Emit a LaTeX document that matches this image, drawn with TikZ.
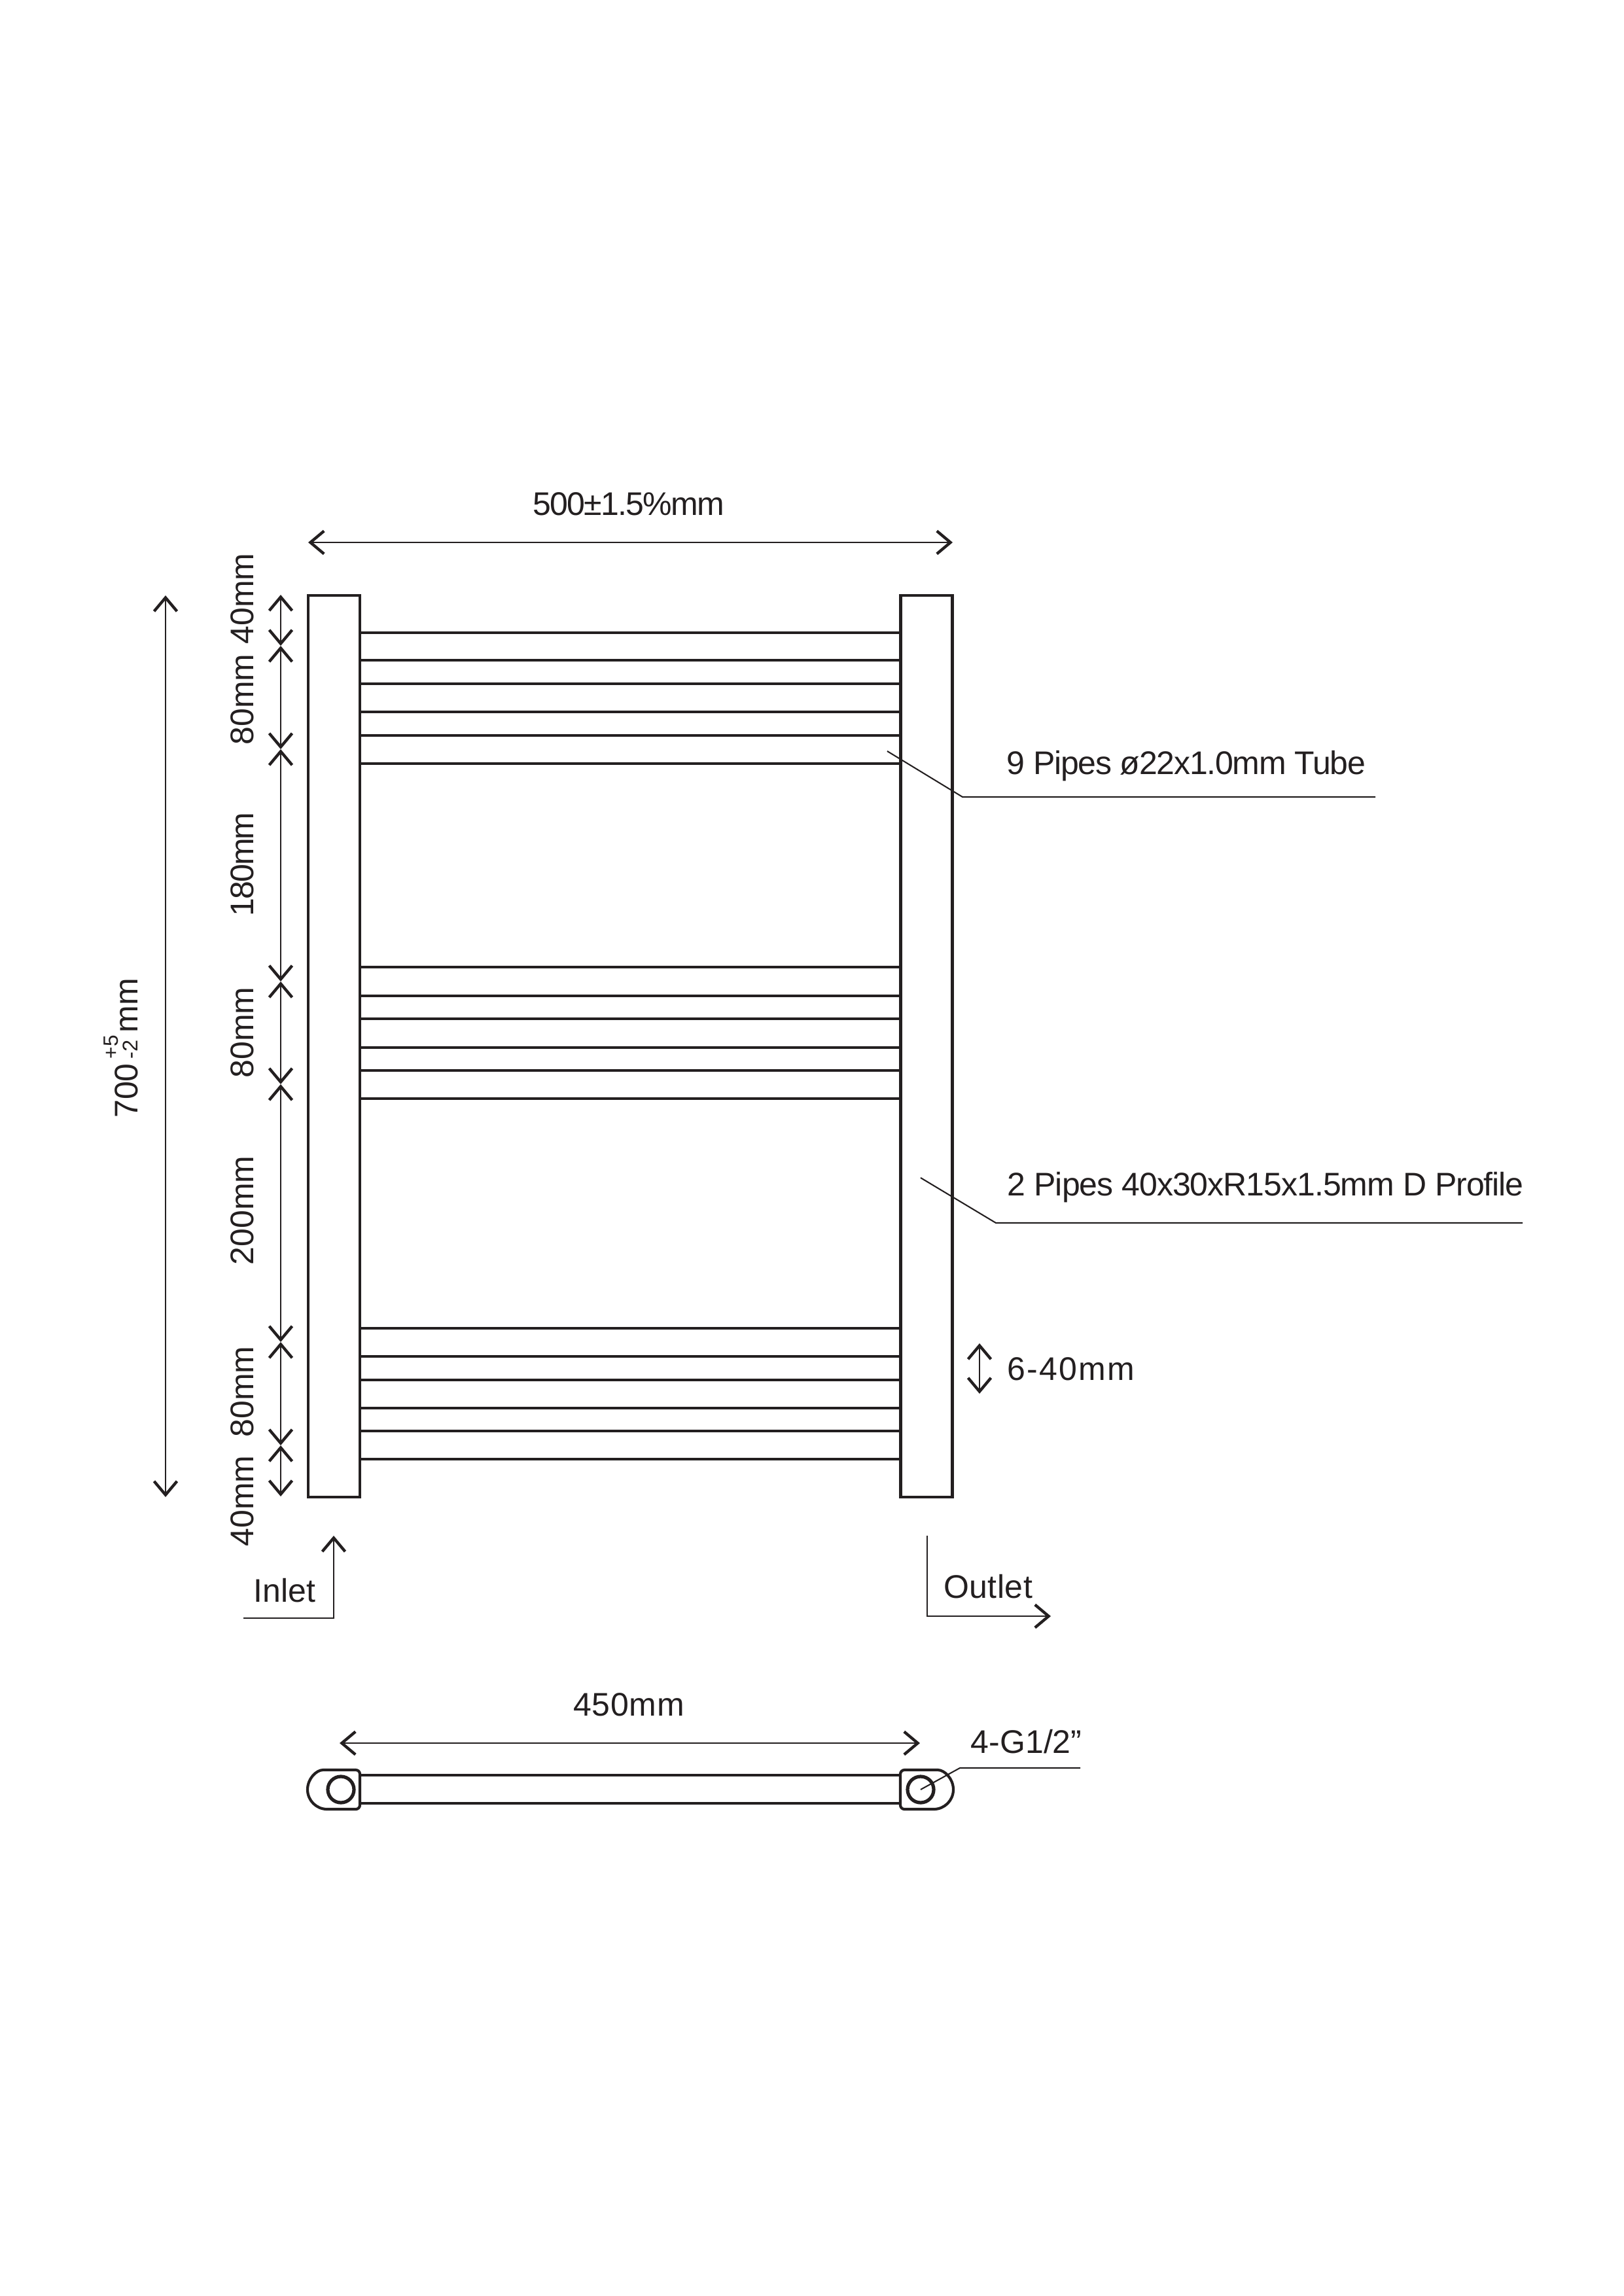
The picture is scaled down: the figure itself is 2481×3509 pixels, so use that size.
\documentclass[tikz,border=0pt]{standalone}
\usepackage{fontspec}
\setmainfont{Liberation Sans}
\usetikzlibrary{arrows.meta}
\definecolor{ink}{HTML}{231F20}
\tikzset{
  rail/.style={draw=ink, line width=1pt, inner sep=0, outer sep=0, minimum width=18.96pt, minimum height=330.72pt},
  pipe/.style={draw=ink, line width=1pt},
  shell/.style={draw=ink, line width=1pt, line join=round},
  port/.style={circle, draw=ink, line width=1.25pt, inner sep=0, outer sep=0, minimum size=9.6pt},
  dim/.style={draw=ink, line width=.55pt, {Straight Barb[length=5pt,width=8.4pt,line width=1.05pt]}-{Straight Barb[length=5pt,width=8.4pt,line width=1.05pt]}},
  flow/.style={draw=ink, line width=.55pt, -{Straight Barb[length=5pt,width=8.4pt,line width=1.05pt]}},
  leader/.style={draw=ink, line width=.5pt},
  lbl/.style={text=ink, font=\fontsize{12}{14}\selectfont, inner sep=0, anchor=base},
  vlbl/.style={lbl, rotate=90}
}
\begin{document}
\begin{tikzpicture}[x=.24pt, y=-.24pt]
\useasboundingbox (0,0) rectangle (2481,3509);
% front view
\node[rail] (railL) at (510.5,1599) {};
\node[rail] (railR) at (1416,1599) {};
\draw[pipe] (railL.east |- 0,967) -- (railR.west |- 0,967);
\draw[pipe] (railL.east |- 0,1009) -- (railR.west |- 0,1009);
\draw[pipe] (railL.east |- 0,1045) -- (railR.west |- 0,1045);
\draw[pipe] (railL.east |- 0,1088) -- (railR.west |- 0,1088);
\draw[pipe] (railL.east |- 0,1124) -- (railR.west |- 0,1124);
\draw[pipe] (railL.east |- 0,1167) -- (railR.west |- 0,1167);
\draw[pipe] (railL.east |- 0,1478) -- (railR.west |- 0,1478);
\draw[pipe] (railL.east |- 0,1522) -- (railR.west |- 0,1522);
\draw[pipe] (railL.east |- 0,1557) -- (railR.west |- 0,1557);
\draw[pipe] (railL.east |- 0,1601) -- (railR.west |- 0,1601);
\draw[pipe] (railL.east |- 0,1636) -- (railR.west |- 0,1636);
\draw[pipe] (railL.east |- 0,1679) -- (railR.west |- 0,1679);
\draw[pipe] (railL.east |- 0,2030) -- (railR.west |- 0,2030);
\draw[pipe] (railL.east |- 0,2073) -- (railR.west |- 0,2073);
\draw[pipe] (railL.east |- 0,2109) -- (railR.west |- 0,2109);
\draw[pipe] (railL.east |- 0,2152) -- (railR.west |- 0,2152);
\draw[pipe] (railL.east |- 0,2187) -- (railR.west |- 0,2187);
\draw[pipe] (railL.east |- 0,2230) -- (railR.west |- 0,2230);
% overall dimensions
\coordinate (widthL) at (471,829);
\coordinate (widthR) at (1456,829);
\draw[dim] (widthL) -- (widthR);
\node[lbl] (widthtxt) at (960.5,788) {\addfontfeature{LetterSpace=-3.5}500±1.5\%mm};
\coordinate (heightT) at (253,910);
\coordinate (heightB) at (253,2288);
\draw[dim] (heightT) -- (heightB);
\node[vlbl] (heighttxt) at (210,1602) {700\kern1.7pt\rlap{\raisebox{7.2pt}{\fontsize{7.6}{8}\selectfont +5}}{\fontsize{7.8}{8}\selectfont -2}\kern2.6pt mm};
% spacing chain
\coordinate (tick0) at (429,909);
\coordinate (tick1) at (429,987);
\coordinate (tick2) at (429,1145);
\coordinate (tick3) at (429,1500);
\coordinate (tick4) at (429,1657);
\coordinate (tick5) at (429,2051);
\coordinate (tick6) at (429,2209);
\coordinate (tick7) at (429,2287);
\draw[dim] (tick0) -- (tick1);
\draw[dim] (tick1) -- (tick2);
\draw[dim] (tick2) -- (tick3);
\draw[dim] (tick3) -- (tick4);
\draw[dim] (tick4) -- (tick5);
\draw[dim] (tick5) -- (tick6);
\draw[dim] (tick6) -- (tick7);
\node[vlbl] (gap0) at (387,915) {40mm};
\node[vlbl] (gap1) at (387,1069) {80mm};
\node[vlbl] (gap2) at (387,1321) {\addfontfeature{LetterSpace=-4}180mm};
\node[vlbl] (gap3) at (387,1578) {80mm};
\node[vlbl] (gap4) at (387,1850) {200mm};
\node[vlbl] (gap5) at (387,2127) {80mm};
\node[vlbl] (gap6) at (387,2294) {40mm};
% callouts
\coordinate (tubeA) at (1356,1148);
\coordinate (tubeB) at (1471,1218);
\coordinate (tubeC) at (2102,1218);
\draw[leader] (tubeA) -- (tubeB) -- (tubeC);
\node[lbl, anchor=base west] (tubetxt) at (1538,1183) {\addfontfeature{LetterSpace=-2.5}9 Pipes ø22x1.0mm Tube};
\coordinate (profA) at (1407,1800);
\coordinate (profB) at (1522,1869);
\coordinate (profC) at (2327,1869);
\draw[leader] (profA) -- (profB) -- (profC);
\node[lbl, anchor=base west] (proftxt) at (1539,1827) {\addfontfeature{LetterSpace=-2}2 Pipes 40x30xR15x1.5mm D Profile};
\coordinate (offT) at (1497,2053);
\coordinate (offB) at (1497,2130);
\draw[dim] (offT) -- (offB);
\node[lbl, anchor=base west] (offtxt) at (1539,2109) {\addfontfeature{LetterSpace=4.5}6-40mm};
% inlet and outlet
\coordinate (inA) at (372,2473);
\coordinate (inB) at (510,2473);
\coordinate (inC) at (510,2347);
\draw[flow] (inA) -- (inB) -- (inC);
\node[lbl] (intxt) at (435,2448) {Inlet};
\coordinate (outA) at (1417,2347);
\coordinate (outB) at (1417,2470);
\coordinate (outC) at (1606,2470);
\draw[flow] (outA) -- (outB) -- (outC);
\node[lbl] (outtxt) at (1510,2442) {\addfontfeature{LetterSpace=1}Outlet};
% bottom view
\coordinate (baseL) at (519,2664);
\coordinate (baseR) at (1406,2664);
\draw[dim] (baseL) -- (baseR);
\node[lbl] (basetxt) at (961,2622) {\addfontfeature{LetterSpace=1.5}450mm};
\draw[shell] (500,2705) arc[start angle=-90, end angle=-270, radius=30] [rounded corners=1.5pt] -- (550,2765) -- (550,2705) -- cycle;
\draw[shell] (1427,2705) arc[start angle=-90, end angle=90, radius=30] [rounded corners=1.5pt] -- (1376,2765) -- (1376,2705) -- cycle;
\coordinate (sideTL) at (550,2713);
\coordinate (sideTR) at (1376,2713);
\coordinate (sideBL) at (550,2756);
\coordinate (sideBR) at (1376,2756);
\draw[pipe] (sideTL) -- (sideTR);
\draw[pipe] (sideBL) -- (sideBR);
\node[port] (portL) at (521,2735) {};
\node[port] (portR) at (1407,2735) {};
\coordinate (portB) at (1467,2702);
\coordinate (portC) at (1651,2702);
\draw[leader] (portR.center) -- (portB) -- (portC);
\node[lbl, anchor=base west] (porttxt) at (1483,2679) {4-G1/2”};
\end{tikzpicture}
\end{document}
